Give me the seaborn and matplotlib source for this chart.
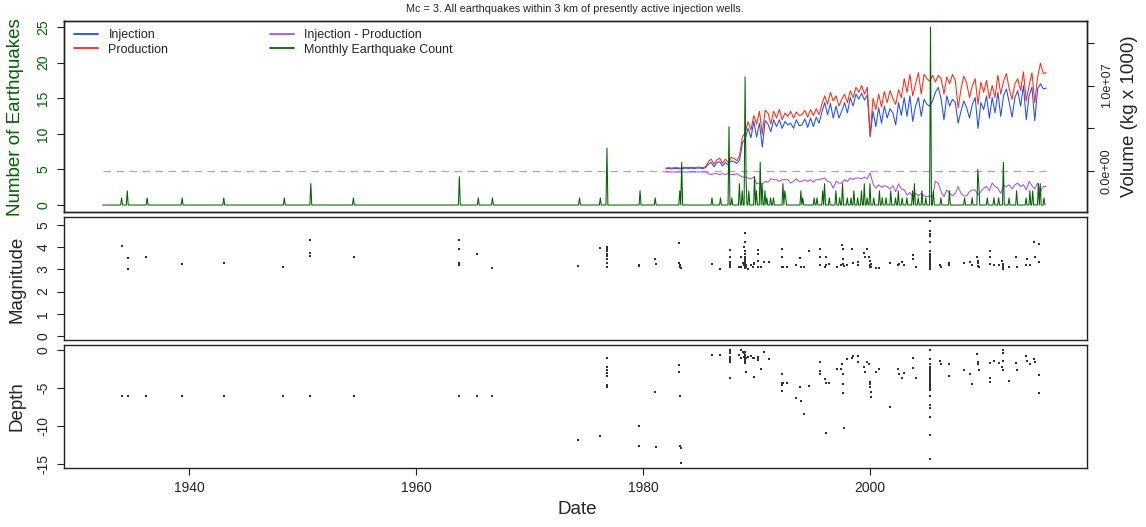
import numpy as np
import pandas as pd
import matplotlib
matplotlib.use("Agg")
import matplotlib.pyplot as plt
import seaborn as sns
from matplotlib.lines import Line2D

# ---------------- data ----------------
title_text = "Mc = 3. All earthquakes within 3 km of presently active injection wells."
x_ticks = [1940, 1960, 1980, 2000]

# quarterly volumes (units of 1e6, i.e. kg x 1000 / 1e6), starting 1982.0
vol_start = 1982.0
injection_e6 = [
    0.25, 0.30, 0.25, 0.30,  0.30, 0.25, 0.30, 0.35,  0.30, 0.35, 0.30, 0.35,
    0.35, 0.30, 0.40, 0.80,  1.00, 0.50, 1.00, 1.10,  0.60, 1.00, 0.70, 1.20,
    1.10, 0.90, 1.30, 3.30,  3.80, 5.00, 3.90, 5.80,  4.00, 5.60, 2.80, 5.90,
    5.50, 4.60, 6.00, 5.20,  6.00, 5.00, 5.80, 5.40,  5.60, 5.00, 6.00, 5.30,
    5.40, 6.10, 5.10, 6.20,  5.20, 6.30, 5.60, 6.90,  8.00, 6.60, 7.90, 6.20,
    7.60, 6.20, 7.00, 8.00,  6.80, 8.60, 7.60, 9.00,  8.40, 9.10, 8.30, 8.90,
    4.00, 7.00, 5.20, 7.40,  5.60, 7.60, 6.20, 7.30,  6.80, 5.40, 8.00, 6.50,
    8.60, 6.40, 8.80, 5.80,  7.60, 8.60, 6.40, 8.40,  7.80, 7.60, 8.20, 9.20,
    9.80, 8.40, 6.00, 8.80,  7.60, 8.40, 8.00, 5.60,  7.00, 8.20, 7.40, 6.20,
    7.80, 8.60, 5.00, 8.00,  7.20, 8.80, 6.20, 8.60,  6.80, 9.20, 6.40, 8.80,
    9.60, 8.00, 6.30, 8.60,  9.40, 7.60, 10.00, 6.00, 8.80, 9.80, 5.90, 9.60,
    10.20, 9.60, 9.70,
]
production_e6 = [
    0.35, 0.40, 0.35, 0.40,  0.40, 0.35, 0.40, 0.45,  0.40, 0.45, 0.40, 0.45,
    0.45, 0.40, 0.50, 1.10,  1.40, 0.80, 1.30, 1.50,  0.90, 1.40, 1.00, 1.60,
    1.50, 1.20, 1.80, 4.00,  4.50, 5.80, 4.80, 6.50,  5.50, 7.00, 4.30, 7.10,
    6.80, 5.50, 7.00, 6.20,  7.20, 6.00, 6.80, 6.40,  7.00, 6.20, 6.90, 6.50,
    6.60, 7.10, 6.30, 7.20,  6.50, 7.30, 6.60, 7.80,  8.80, 7.80, 9.20, 8.20,
    8.80, 7.60, 8.40, 9.00,  8.00, 9.40, 8.60, 9.80,  9.20, 10.00, 9.00, 9.80,
    4.20, 8.50, 7.20, 9.00,  7.50, 9.30, 8.00, 9.40,  8.50, 7.80, 9.50, 8.60,
    10.80, 9.20, 11.30, 8.80, 10.20, 11.50, 9.00, 11.30, 10.80, 10.50, 11.20, 10.40,
    11.20, 10.80, 9.00, 11.00, 10.20, 11.30, 10.60, 7.40, 9.60, 11.10, 10.30, 8.60,
    10.00, 10.80, 7.80, 10.40, 9.20, 10.60, 8.50, 10.00, 8.60, 11.20, 9.00, 10.50,
    11.40, 9.60, 8.40, 10.20, 10.80, 9.40, 11.60, 8.20, 10.00, 11.50, 8.00, 11.00,
    12.60, 11.40, 11.50,
]

# monthly earthquake counts: months with earthquakes (others are zero)
count_start, count_end = 1932.4, 2015.46
count_dates = [
    1934.1, 1934.6, 1936.3, 1939.4, 1943.1, 1948.4, 1950.7, 1954.5, 1963.85, 1965.5,
    1966.7, 1974.4, 1976.2, 1976.8, 1979.7, 1981.1, 1983.2, 1983.4, 1986.05, 1986.8,
    1987.6, 1987.8, 1988.5, 1988.75, 1989.0, 1989.1, 1989.3, 1989.8, 1990.0, 1990.3,
    1990.5, 1990.7, 1990.9, 1991.2, 1991.5, 1992.3, 1992.45, 1992.6, 1993.9, 1994.1,
    1995.1, 1995.35, 1995.8, 1996.0, 1996.4, 1997.0, 1997.3, 1997.6, 1998.0, 1998.3,
    1998.6, 1998.9, 1999.2, 1999.5, 1999.75, 2000.0, 2000.3, 2000.8, 2001.1, 2001.4,
    2001.8, 2002.2, 2002.5, 2002.8, 2003.2, 2003.7, 2003.9, 2004.2, 2004.6, 2004.9,
    2005.35, 2005.55, 2006.25, 2007.0, 2008.3, 2009.0, 2009.5, 2009.6, 2010.3, 2010.9,
    2011.3, 2011.7, 2012.2, 2012.9, 2013.7, 2014.1, 2014.3, 2014.8, 2015.0, 2015.3,
]
count_values = [
    1, 2, 1, 1, 1, 1, 3, 1, 4, 1,
    1, 1, 1, 8, 2, 1, 2, 6, 1, 1,
    11, 1, 3, 2, 18, 4, 2, 4, 2, 6,
    3, 2, 1, 1, 1, 3, 2, 1, 2, 1,
    1, 1, 2, 3, 1, 2, 1, 3, 1, 1,
    2, 1, 2, 3, 1, 3, 1, 2, 1, 1,
    2, 1, 2, 1, 1, 2, 3, 1, 2, 1,
    25, 2, 1, 2, 1, 1, 5, 3, 1, 1,
    1, 6, 1, 2, 1, 2, 2, 3, 3, 1,
]

# individual earthquakes: date, magnitude, depth (km, negative down)
eq_year = [
    1934.1, 1934.6, 1934.6, 1936.2, 1939.4, 1943.1, 1948.3, 1950.7, 1950.7, 1950.7,
    1954.5, 1963.8, 1963.8, 1963.8, 1963.8, 1965.4, 1966.7, 1974.3, 1976.2,
    1976.8, 1976.8, 1976.8, 1976.8, 1976.8, 1976.8, 1976.8, 1976.8,
    1979.62, 1979.62, 1981.02, 1981.11,
    1983.2, 1983.2, 1983.25, 1983.25, 1983.3, 1983.3,
    1986.06, 1986.76,
    1987.64, 1987.64, 1987.64, 1987.64, 1987.64, 1987.64, 1987.64, 1987.64,
    1988.49, 1988.63, 1988.63, 1988.78, 1988.87, 1988.87, 1988.95, 1988.95, 1988.98, 1988.98,
    1988.98, 1988.98, 1988.98, 1988.98, 1989.0, 1989.0, 1989.02, 1989.05, 1989.1, 1989.2,
    1989.51, 1989.66, 1989.8, 1989.8, 1990.15, 1990.15, 1990.15, 1990.15, 1990.39, 1990.68, 1991.12,
    1992.2, 1992.2, 1992.2, 1992.25, 1992.3, 1992.67,
    1993.46, 1993.84, 1993.9, 1994.19, 1994.63,
    1995.6, 1995.6, 1995.6, 1996.04, 1996.1, 1996.1, 1996.39,
    1997.12, 1997.47, 1997.56, 1997.65, 1997.65, 1997.65, 1997.71, 1997.94, 1998.44, 1998.52,
    1998.93, 1998.93, 1999.46, 1999.55, 1999.75, 1999.9, 1999.96, 1999.96, 2000.0, 2000.04,
    2000.04, 2000.49, 2000.78,
    2001.72, 2002.45, 2002.54, 2002.83, 2002.97,
    2003.79, 2003.79, 2004.0,
    2005.27, 2005.27, 2005.27, 2005.27, 2005.27, 2005.27, 2005.27, 2005.27, 2005.27, 2005.27,
    2005.27, 2005.27, 2005.27, 2005.27, 2005.27, 2005.27, 2005.27, 2005.27, 2005.27, 2005.27,
    2005.27, 2005.27, 2005.27, 2005.27, 2005.27,
    2006.19, 2006.25, 2006.92, 2006.92,
    2008.24, 2008.83, 2008.97, 2009.41, 2009.47, 2009.5, 2009.56, 2009.5,
    2010.52, 2010.52, 2010.58, 2010.94, 2011.31, 2011.61, 2011.67, 2011.67, 2011.67, 2011.7,
    2012.19,
    2012.87, 2012.93, 2013.75, 2013.81, 2014.04, 2014.45, 2014.48, 2014.83, 2014.89,
]
eq_mag = [
    4.05, 3.50, 3.00, 3.55, 3.25, 3.30, 3.10, 4.30, 3.75, 3.60,
    3.55, 4.30, 3.90, 3.30, 3.20, 3.70, 3.05, 3.15, 3.95,
    3.10, 3.30, 3.45, 3.60, 3.70, 3.80, 3.90, 4.00,
    3.15, 3.20, 3.45, 3.25,
    4.17, 3.30, 3.20, 3.10, 3.07, 3.05,
    3.24, 3.02,
    3.87, 3.54, 3.32, 3.24, 3.17, 3.09, 3.12, 3.20,
    3.12, 3.54, 3.09, 3.27, 3.99, 3.17, 4.22, 3.32, 4.62, 3.84,
    3.69, 3.57, 3.47, 3.39, 3.24, 3.12, 3.06, 3.17, 3.09, 3.02,
    3.17, 3.09, 3.24, 3.30, 3.87, 3.69, 3.39, 3.12, 3.09, 3.32, 3.32,
    3.92, 3.54, 3.09, 3.09, 3.09, 3.09,
    3.17, 3.50, 3.09, 3.12, 3.80,
    3.89, 3.54, 3.17, 3.09, 3.54, 3.20, 3.24,
    3.09, 3.20, 4.10, 3.92, 3.47, 3.24, 3.15, 3.17, 3.92, 3.30,
    3.32, 3.17, 3.72, 3.54, 3.92, 3.54, 3.39, 3.17, 3.09, 3.09,
    3.25, 3.06, 3.06,
    3.27, 3.20, 3.24, 3.32, 3.17,
    3.62, 3.47, 3.09,
    5.17, 4.70, 4.60, 4.50, 4.22, 3.84, 3.80, 3.69, 3.62, 3.54,
    3.47, 3.39, 3.32, 3.27, 3.24, 3.20, 3.17, 3.12, 3.09, 3.06,
    3.02, 3.10, 3.15, 3.30, 3.50,
    3.17, 3.12, 3.27, 3.20,
    3.27, 3.32, 3.20, 3.54, 3.39, 3.27, 3.09, 3.15,
    3.80, 3.54, 3.24, 3.17, 3.17, 3.39, 3.17, 3.02, 3.25, 3.10,
    3.09,
    3.57, 3.09, 3.20, 3.47, 3.17, 4.22, 3.57, 4.14, 3.32,
]
eq_depth = [
    -6.0, -6.0, -6.0, -6.0, -6.0, -6.0, -6.0, -6.0, -6.0, -6.0,
    -6.0, -6.0, -6.0, -6.0, -6.0, -6.0, -6.0, -11.8, -11.3,
    -1.1, -2.2, -2.6, -3.0, -3.4, -4.6, -4.9, -4.8,
    -10.0, -12.7, -5.5, -12.8,
    -1.97, -2.94, -6.0, -12.6, -12.85, -14.9,
    -0.66, -0.66,
    0.0, -0.44, -0.88, -1.1, -1.32, -1.54, -3.64, -0.2,
    -0.6, 0.0, -1.1, -0.3, -0.45, -0.9, -0.2, -0.6, -1.0, -1.2,
    -1.3, -1.45, -1.5, -0.7, -0.8, -1.6, -1.75, -1.1, -2.9, -0.9,
    -0.75, -1.1, -1.1, -3.51, -1.1, -0.9, -1.3, -1.0, -2.54, -0.31, -1.18,
    -3.2, -4.3, -4.61, -5.39, -4.4, -4.3,
    -6.36, -4.91, -6.71, -8.42, -4.7,
    -1.62, -2.76, -3.2, -3.82, -4.3, -10.88, -4.3,
    -2.5, -2.5, -1.89, -3.2, -4.52, -5.61, -10.3, -1.18, -1.1, -0.8,
    -0.79, -1.62, -2.19, -2.94, -1.62, -1.89, -4.17, -4.52, -4.82, -5.48,
    -6.14, -2.94, -2.5,
    -7.46, -2.5, -3.2, -3.64, -3.0,
    -1.1, -2.41, -3.73,
    0.0, -1.18, -1.89, -2.19, -2.54, -2.76, -3.07, -3.29, -3.51, -3.73,
    -3.95, -4.17, -4.39, -4.61, -4.82, -5.04, -5.26, -6.05, -7.24, -7.68,
    -8.77, -11.18, -14.34, -4.5, -4.0,
    -1.45, -1.89, -1.84, -3.38,
    -2.63, -3.2, -4.52, -0.53, -1.54, -1.84, -2.63, -1.7,
    -1.67, -4.17, -3.64, -1.4, -1.75, -2.2, 0.0, -0.44, -1.45, -2.63,
    -4.04,
    -1.67, -2.63, -0.75, -1.5, -1.84, -1.18, -1.6, -3.29, -5.7,
]

# ---------------- derived tables ----------------
vol = pd.DataFrame({
    "date": vol_start + 0.25 * np.arange(len(injection_e6)),
    "Injection": np.array(injection_e6) * 1e6,
    "Production": np.array(production_e6) * 1e6,
})
vol["Injection - Production"] = vol["Injection"] - vol["Production"]

months = np.arange(count_start, count_end + 1e-9, 1.0 / 12.0)
counts = np.zeros(len(months))
for d, c in zip(count_dates, count_values):
    counts[int(round((d - count_start) * 12))] += c
cnt = pd.DataFrame({"date": months, "count": counts})

eq = pd.DataFrame({"date": eq_year, "mag": eq_mag, "depth": eq_depth})

# ---------------- style ----------------
sns.set_style("white")
plt.rcParams["font.family"] = ["Liberation Sans", "DejaVu Sans"]
plt.rcParams["axes.edgecolor"] = "#222222"
plt.rcParams["axes.linewidth"] = 1.0

BLUE = "#1f4bff"
RED = "#ff2a10"
PURPLE = "#a650f2"
GREEN = "#006400"
XLIM = (1928.95, 2019.1)

W, H = 1146, 527
fig = plt.figure(figsize=(W / 100, H / 100), dpi=100)


def rect(l, t, r, b):
    return [l / W, 1 - b / H, (r - l) / W, (b - t) / H]


ax_top = fig.add_axes(rect(63.5, 21, 1087, 212))
ax_vol = ax_top.twinx()
ax_mag = fig.add_axes(rect(63.5, 217, 1087, 340))
ax_dep = fig.add_axes(rect(63.5, 345, 1087, 467.7))

# volumes on right axis
for col, c in [("Injection", BLUE), ("Production", RED), ("Injection - Production", PURPLE)]:
    sns.lineplot(data=vol, x="date", y=col, ax=ax_vol, color=c, linewidth=0.75,
                 estimator=None, legend=False)
ax_vol.hlines(0, count_start, count_end, colors="#a8a8a8", linewidth=0.9,
              linestyles=(0, (6.0, 4.4)), zorder=1)

# counts on left axis (drawn above the volumes)
ax_top.set_zorder(ax_vol.get_zorder() + 1)
ax_top.patch.set_visible(False)
sns.lineplot(data=cnt, x="date", y="count", ax=ax_top, color=GREEN, linewidth=0.75,
             estimator=None, legend=False)

sns.scatterplot(data=eq, x="date", y="mag", ax=ax_mag, color="#333333", s=0.9,
                marker="s", linewidth=0, legend=False)
sns.scatterplot(data=eq, x="date", y="depth", ax=ax_dep, color="#333333", s=0.9,
                marker="s", linewidth=0, legend=False)

# limits
for a in (ax_top, ax_vol, ax_mag, ax_dep):
    a.set_xlim(*XLIM)
    a.set_xlabel("")
    a.set_ylabel("")
ax_top.set_ylim(-0.98, 25.85)
ax_vol.set_ylim(-4.78e6, 17.54e6)
ax_mag.set_ylim(-0.18, 5.35)
ax_dep.set_ylim(-15.5, 0.66)

# ticks
tick_kw = dict(direction="out", length=5, width=0.8, color="#222222", labelsize=10, pad=4.5)
for a in (ax_top, ax_mag, ax_dep):
    a.tick_params(axis="y", left=True, **tick_kw)
    a.set_xticks([])
ax_dep.set_xticks(x_ticks)
ax_dep.set_xticklabels([str(t) for t in x_ticks])
ax_dep.tick_params(axis="x", bottom=True, **tick_kw)

ax_top.set_yticks([0, 5, 10, 15, 20, 25])
ax_top.tick_params(axis="y", labelcolor=GREEN)
ax_mag.set_yticks([0, 1, 2, 3, 4, 5])
ax_dep.set_yticks([0, -5, -10, -15])
ax_dep.set_yticklabels(["0", "-5", "-10", "-15"])

ax_vol.set_yticks([0, 5e6, 1e7, 1.5e7])
ax_vol.set_yticklabels(["0.0e+00", "", "1.0e+07", ""])
ax_vol.tick_params(axis="y", right=True, direction="out", length=5, width=0.8,
                   color="#222222", labelsize=9, pad=5)
ax_vol.set_xticks([])

for a in (ax_top, ax_mag, ax_dep):
    for lab in a.get_yticklabels():
        lab.set_rotation(90)
        lab.set_va("center")
for lab in ax_vol.get_yticklabels():
    lab.set_rotation(90)
    lab.set_va("center")

for a in (ax_top, ax_vol, ax_mag, ax_dep):
    for s in a.spines.values():
        s.set_visible(True)
        s.set_color("#222222")
        s.set_linewidth(1.0)

# legends
def h(c):
    return Line2D([], [], color=c, linewidth=1.3)

leg_kw = dict(loc="upper left", frameon=False, fontsize=9, handlelength=1.9,
              handletextpad=0.85, labelspacing=0.22, borderpad=0, borderaxespad=0)
leg1 = ax_top.legend([h(BLUE), h(RED)], ["Injection", "Production"],
                     bbox_to_anchor=(0.0103, 0.958), **leg_kw)
ax_top.add_artist(leg1)
ax_top.legend([h(PURPLE), h(GREEN)], ["Injection - Production", "Monthly Earthquake Count"],
              bbox_to_anchor=(0.2018, 0.958), **leg_kw)

# labels
def ftext(x, y, s, **kw):
    fig.text(x / W, 1 - y / H, s, ha="center", va="center", **kw)

ftext(575, 8.5, title_text, fontsize=7.8)
ftext(16, 117, "Number of Earthquakes", fontsize=13.5, rotation=90, color=GREEN)
ftext(17, 279, "Magnitude", fontsize=13.5, rotation=90)
ftext(17, 406, "Depth", fontsize=13.5, rotation=90)
ftext(577, 510, "Date", fontsize=13.5)
ftext(1130, 116.5, "Volume (kg x 1000)", fontsize=13.5, rotation=90)

fig.savefig("out.png", dpi=100)
